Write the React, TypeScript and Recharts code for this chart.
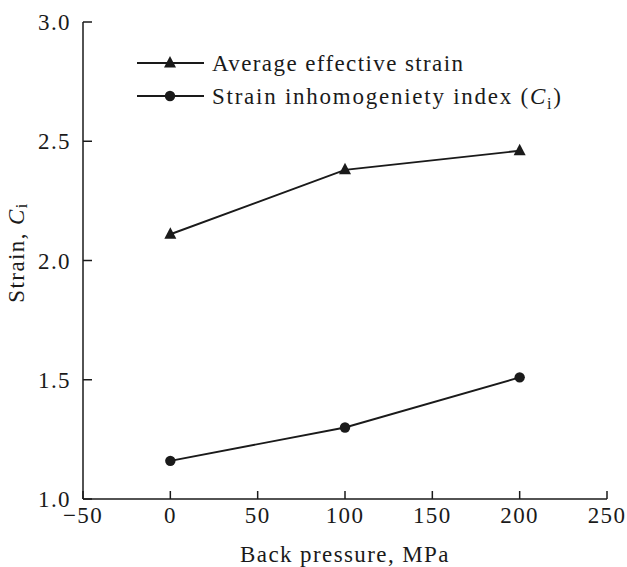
import React from "react";
import { LineChart, Line, XAxis, YAxis } from "recharts";

const pressures = [0, 100, 200];
const avgStrain = [2.11, 2.38, 2.46];
const inhomogeneity = [1.16, 1.3, 1.51];
const xTicks = [-50, 0, 50, 100, 150, 200, 250];
const yTicks = [1.0, 1.5, 2.0, 2.5, 3.0];
const seriesNames = ["Average effective strain", "Strain inhomogeniety index"];

const data = pressures.map((p, i) => ({ p, a: avgStrain[i], c: inhomogeneity[i] }));

const FONT = "'Liberation Serif', 'Times New Roman', serif";
const FS = 23;
const LS = 1.4;
const INK = "#1a1a1a";

const fmtX = (v: number) => (v < 0 ? "\u2212" + Math.abs(v) : String(v));

const XTick = (props: any) => {
  const { x, y, payload } = props;
  return (
    <g>
      <line x1={x} x2={x} y1={y} y2={y - 8} stroke={INK} strokeWidth={1.5} />
      <text x={x} y={y + 24} textAnchor="middle" fontFamily={FONT} fontSize={FS} letterSpacing={LS} fill={INK}>
        {fmtX(payload.value)}
      </text>
    </g>
  );
};

const YTick = (props: any) => {
  const { x, y, payload } = props;
  return (
    <g>
      <line x1={x} x2={x + 9} y1={y} y2={y} stroke={INK} strokeWidth={1.5} />
      <text x={x - 12} y={y + 8} textAnchor="end" fontFamily={FONT} fontSize={FS} letterSpacing={LS} fill={INK}>
        {Number(payload.value).toFixed(1)}
      </text>
    </g>
  );
};

const Triangle = (props: any) => {
  const { cx, cy } = props;
  if (cx == null || cy == null) return <g />;
  return <path d={`M${cx},${cy - 7} L${cx + 6},${cy + 4.5} L${cx - 6},${cy + 4.5} Z`} fill={INK} />;
};

const Circle = (props: any) => {
  const { cx, cy } = props;
  if (cx == null || cy == null) return <g />;
  return <circle cx={cx} cy={cy} r={5.2} fill={INK} />;
};

const XLabel = (props: any) => {
  const vb = props.viewBox;
  return (
    <text x={vb.x + vb.width / 2} y={vb.y + 63} textAnchor="middle" fontFamily={FONT} fontSize={FS} letterSpacing={LS} fill={INK}>
      Back pressure, MPa
    </text>
  );
};

const YLabel = (props: any) => {
  const vb = props.viewBox;
  const cx = vb.x + vb.width - 67;
  const cy = vb.y + vb.height / 2 - 8;
  return (
    <text x={cx} y={cy} transform={`rotate(-90, ${cx}, ${cy})`} textAnchor="middle" dominantBaseline="central" fontFamily={FONT} fontSize={FS} letterSpacing={LS} fill={INK}>
      Strain, <tspan fontStyle="italic">C</tspan>
      <tspan fontSize={16} dy={5}>i</tspan>
    </text>
  );
};

const LegendBox = () => (
  <svg width={490} height={70} style={{ position: "absolute", left: 130, top: 45, display: "block" }}>
    <line x1={7} x2={74} y1={18} y2={18} stroke={INK} strokeWidth={1.8} />
    <Triangle cx={40} cy={18} />
    <text x={82} y={26} fontFamily={FONT} fontSize={FS} letterSpacing={LS} fill={INK}>
      {seriesNames[0]}
    </text>
    <line x1={7} x2={74} y1={51} y2={51} stroke={INK} strokeWidth={1.8} />
    <Circle cx={40} cy={51} />
    <text x={82} y={59} fontFamily={FONT} fontSize={FS} letterSpacing={1.75} fill={INK}>
      {seriesNames[1]} (<tspan fontStyle="italic">C</tspan>
      <tspan fontSize={16} dy={5}>i</tspan>
      <tspan dy={-5}>)</tspan>
    </text>
  </svg>
);

export default function App() {
  return (
    <div style={{ position: "absolute", left: 0, top: 0, width: 627, height: 567, background: "#fff" }}>
      <LineChart width={627} height={567} data={data} margin={{ top: 22, right: 20, bottom: 67, left: 82 }}>
        <XAxis
          dataKey="p"
          type="number"
          domain={[-50, 250]}
          ticks={xTicks}
          height={1}
          tickSize={0}
          tickMargin={0}
          tickLine={false}
          tick={<XTick />}
          axisLine={{ stroke: INK, strokeWidth: 1.5 }}
          interval={0}
          label={<XLabel />}
        />
        <YAxis
          type="number"
          domain={[1, 3]}
          ticks={yTicks}
          width={1}
          tickSize={0}
          tickMargin={0}
          tickLine={false}
          tick={<YTick />}
          axisLine={{ stroke: INK, strokeWidth: 1.5 }}
          interval={0}
          label={<YLabel />}
        />
        <Line dataKey="a" stroke={INK} strokeWidth={1.9} dot={<Triangle />} isAnimationActive={false} />
        <Line dataKey="c" stroke={INK} strokeWidth={1.9} dot={<Circle />} isAnimationActive={false} />
      </LineChart>
      <LegendBox />
    </div>
  );
}
